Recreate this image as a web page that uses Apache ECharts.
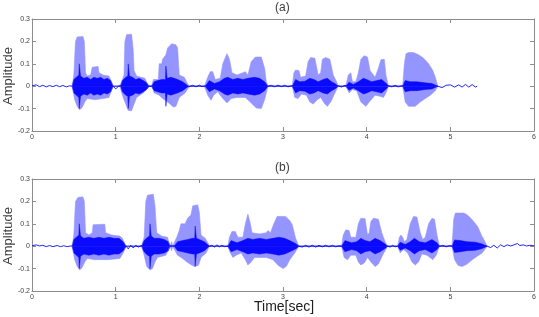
<!DOCTYPE html>
<html><head><meta charset="utf-8">
<script src="https://cdn.jsdelivr.net/npm/echarts@6/dist/echarts.min.js"></script>
<style>html,body{margin:0;padding:0;background:#fff}#c{width:539px;height:317px}</style>
</head><body><div id="c"></div>
<script>
// ---- Axis ticks ----
const xTicks = [0, 1, 2, 3, 4, 5, 6];
const yTicks = [-0.2, -0.1, 0, 0.1, 0.2, 0.3];
const panelTitles = ['(a)', '(b)'];

// ---- Panel (a): envelope keypoints [time(sec), amplitude] ----
const upperA = [[0.48,0],[0.50,0.05],[0.52,0.20],[0.54,0.22],[0.61,0.222],[0.625,0.2],[0.64,0.06],[0.66,0.045],[0.70,0.05],[0.72,0.085],[0.79,0.088],[0.80,0.06],[0.85,0.05],[0.92,0.045],[0.95,0.02],[0.97,0],
 [1.05,0],[1.07,0.02],[1.10,0.05],[1.11,0.2],[1.13,0.23],[1.19,0.232],[1.21,0.16],[1.22,0.07],[1.25,0.045],[1.35,0.035],[1.38,0.01],[1.40,0],
 [1.43,0],[1.45,0.03],[1.51,0.03],[1.52,0.1],[1.55,0.1],[1.56,0.12],[1.60,0.14],[1.62,0.17],[1.67,0.19],[1.72,0.185],[1.74,0.17],[1.76,0.05],[1.82,0.04],[1.86,0.01],[1.88,0],
 [2.06,0],[2.10,0.04],[2.13,0.065],[2.16,0.065],[2.19,0.03],[2.25,0.035],[2.28,0.1],[2.33,0.145],[2.36,0.12],[2.39,0.06],[2.45,0.05],[2.52,0.06],[2.55,0.065],[2.58,0.05],[2.62,0.11],[2.67,0.13],[2.74,0.13],[2.78,0.08],[2.80,0.02],[2.82,0],
 [3.11,0],[3.13,0.06],[3.15,0.072],[3.19,0.07],[3.21,0.04],[3.27,0.045],[3.30,0.11],[3.33,0.128],[3.38,0.125],[3.42,0.05],[3.45,0.06],[3.47,0.12],[3.51,0.128],[3.56,0.12],[3.60,0.05],[3.64,0.02],[3.66,0],
 [3.75,0],[3.78,0.05],[3.81,0.06],[3.83,0.02],[3.87,0.02],[3.90,0.06],[3.93,0.12],[3.97,0.136],[4.01,0.13],[4.04,0.07],[4.10,0.04],[4.14,0.08],[4.17,0.118],[4.21,0.12],[4.23,0.05],[4.26,0],
 [4.43,0],[4.45,0.1],[4.47,0.145],[4.50,0.15],[4.56,0.15],[4.62,0.14],[4.68,0.125],[4.74,0.1],[4.79,0.07],[4.82,0.04],[4.85,0]];
const lowerA = [[0.48,0],[0.51,-0.06],[0.54,-0.09],[0.57,-0.105],[0.60,-0.095],[0.63,-0.07],[0.66,-0.055],[0.75,-0.06],[0.85,-0.055],[0.92,-0.05],[0.95,-0.02],[0.97,0],
 [1.05,0],[1.08,-0.04],[1.11,-0.07],[1.15,-0.108],[1.19,-0.11],[1.22,-0.08],[1.25,-0.05],[1.33,-0.03],[1.38,-0.01],[1.40,0],
 [1.43,0],[1.46,-0.03],[1.52,-0.04],[1.56,-0.055],[1.62,-0.07],[1.69,-0.093],[1.72,-0.09],[1.76,-0.05],[1.83,-0.03],[1.88,0],
 [2.06,0],[2.10,-0.04],[2.14,-0.063],[2.17,-0.04],[2.22,-0.025],[2.27,-0.05],[2.33,-0.075],[2.38,-0.055],[2.45,-0.05],[2.55,-0.05],[2.62,-0.075],[2.68,-0.097],[2.74,-0.1],[2.78,-0.06],[2.82,0],
 [3.11,0],[3.14,-0.05],[3.18,-0.055],[3.22,-0.035],[3.28,-0.04],[3.32,-0.07],[3.36,-0.08],[3.41,-0.06],[3.45,-0.05],[3.50,-0.08],[3.53,-0.09],[3.57,-0.07],[3.62,-0.03],[3.66,0],
 [3.75,0],[3.79,-0.03],[3.83,-0.015],[3.88,-0.02],[3.93,-0.07],[3.99,-0.09],[4.03,-0.07],[4.10,-0.04],[4.16,-0.045],[4.20,-0.05],[4.23,-0.03],[4.26,0],
 [4.43,0],[4.46,-0.07],[4.50,-0.09],[4.58,-0.09],[4.64,-0.07],[4.70,-0.055],[4.76,-0.04],[4.82,-0.02],[4.85,0]];
const coreA = [[0.48,0],[0.50,0.03],[0.53,0.04],[0.56,0.05],[0.565,0.1],[0.575,0.1],[0.58,0.045],[0.62,0.035],[0.66,0.04],[0.70,0.03],[0.74,0.04],[0.78,0.035],[0.82,0.04],[0.86,0.03],[0.90,0.035],[0.94,0.025],[0.97,0],
 [1.06,0],[1.08,0.025],[1.12,0.04],[1.145,0.045],[1.15,0.1],[1.16,0.1],[1.165,0.045],[1.20,0.04],[1.24,0.03],[1.28,0.035],[1.33,0.025],[1.37,0.015],[1.40,0],
 [1.43,0],[1.46,0.02],[1.50,0.025],[1.55,0.03],[1.595,0.03],[1.60,0.09],[1.61,0.09],[1.615,0.035],[1.66,0.04],[1.70,0.035],[1.74,0.03],[1.80,0.02],[1.87,0],
 [2.07,0],[2.12,0.025],[2.18,0.012],[2.24,0.02],[2.30,0.035],[2.34,0.04],[2.40,0.03],[2.46,0.035],[2.52,0.03],[2.58,0.035],[2.66,0.04],[2.72,0.035],[2.78,0.02],[2.82,0],
 [3.11,0],[3.15,0.03],[3.20,0.02],[3.26,0.022],[3.32,0.035],[3.37,0.03],[3.42,0.02],[3.48,0.03],[3.53,0.035],[3.58,0.02],[3.62,0.012],[3.66,0],
 [3.75,0],[3.79,0.018],[3.84,0.008],[3.90,0.02],[3.96,0.035],[4.00,0.03],[4.06,0.02],[4.12,0.025],[4.18,0.03],[4.24,0.01],[4.26,0],
 [4.43,0],[4.46,0.025],[4.52,0.02],[4.60,0.02],[4.70,0.015],[4.78,0.012],[4.85,0]];
const quietA = [[0,0.002],[0.05,0.006],[0.09,-0.002],[0.13,0.004],[0.17,-0.003],[0.21,0.003],[0.25,-0.002],[0.29,0.004],[0.33,-0.002],[0.37,0.003],[0.41,-0.003],[0.45,0.002],[0.48,0],
 [0.97,0],[1.0,-0.012],[1.02,-0.006],[1.04,0.002],[1.05,0],[1.40,0],[1.42,-0.004],[1.43,0],
 [1.88,-0.002],[1.92,0.004],[1.96,-0.003],[2.0,0.005],[2.03,-0.002],[2.06,0],
 [2.82,0],[2.86,0.004],[2.90,-0.003],[2.94,0.005],[2.98,-0.002],[3.02,0.004],[3.06,-0.003],[3.10,0.002],[3.11,0],
 [3.66,0.002],[3.70,-0.004],[3.73,0.003],[3.75,0],
 [4.26,0.003],[4.30,-0.003],[4.34,0.004],[4.38,-0.003],[4.42,0.002],[4.43,0],
 [4.85,0],[4.9,-0.006],[4.95,0.004],[5.0,0.006],[5.05,-0.004],[5.1,0.006],[5.14,-0.004],[5.18,0.008],[5.22,-0.004],[5.26,0.007],[5.30,-0.004],[5.32,0]];

// ---- Panel (b) ----
const upperB = [[0.48,0],[0.50,0.05],[0.52,0.2],[0.55,0.218],[0.61,0.22],[0.625,0.2],[0.64,0.06],[0.68,0.05],[0.72,0.06],[0.73,0.096],[0.87,0.098],[0.88,0.06],[0.95,0.05],[1.05,0.045],[1.08,0.035],[1.11,0.01],[1.125,0],
 [1.31,0],[1.34,0.04],[1.36,0.2],[1.38,0.228],[1.45,0.232],[1.47,0.18],[1.49,0.06],[1.55,0.045],[1.62,0.04],[1.64,0.01],[1.65,0],
 [1.66,0],[1.67,0.02],[1.68,0],
 [1.70,0],[1.73,0.04],[1.76,0.07],[1.78,0.1],[1.83,0.1],[1.86,0.125],[1.90,0.14],[1.92,0.18],[1.98,0.185],[2.0,0.15],[2.02,0.05],[2.07,0.035],[2.11,0.01],[2.12,0],
 [2.34,0],[2.36,0.04],[2.39,0.066],[2.43,0.066],[2.46,0.04],[2.52,0.04],[2.55,0.1],[2.58,0.143],[2.61,0.1],[2.63,0.06],[2.72,0.055],[2.80,0.06],[2.82,0.07],[2.85,0.06],[2.89,0.1],[2.93,0.133],[3.03,0.133],[3.08,0.115],[3.11,0.096],[3.15,0.036],[3.19,0],
 [3.70,0],[3.72,0.05],[3.75,0.073],[3.79,0.07],[3.81,0.04],[3.87,0.04],[3.90,0.1],[3.93,0.125],[3.98,0.123],[4.01,0.05],[4.03,0.06],[4.05,0.11],[4.08,0.125],[4.14,0.12],[4.18,0.06],[4.22,0.02],[4.25,0],
 [4.37,0],[4.39,0.04],[4.41,0.05],[4.43,0.04],[4.45,0.02],[4.48,0.03],[4.52,0.1],[4.56,0.133],[4.60,0.13],[4.64,0.06],[4.67,0.03],[4.70,0.04],[4.74,0.1],[4.78,0.125],[4.81,0.12],[4.84,0.05],[4.87,0],
 [5.02,0],[5.04,0.12],[5.06,0.148],[5.16,0.148],[5.20,0.14],[5.25,0.123],[5.30,0.1],[5.33,0.085],[5.37,0.05],[5.40,0.03],[5.44,0]];
const lowerB = [[0.48,0],[0.51,-0.06],[0.54,-0.09],[0.57,-0.106],[0.60,-0.095],[0.63,-0.07],[0.66,-0.055],[0.75,-0.06],[0.90,-0.06],[1.05,-0.055],[1.09,-0.03],[1.125,0],
 [1.31,0],[1.34,-0.04],[1.37,-0.09],[1.41,-0.106],[1.44,-0.1],[1.47,-0.07],[1.50,-0.05],[1.60,-0.04],[1.65,0],
 [1.66,0],[1.67,-0.02],[1.68,0],
 [1.70,0],[1.74,-0.04],[1.80,-0.055],[1.85,-0.07],[1.91,-0.085],[1.95,-0.091],[1.99,-0.085],[2.02,-0.05],[2.08,-0.03],[2.12,0],
 [2.34,0],[2.37,-0.03],[2.40,-0.05],[2.44,-0.04],[2.50,-0.03],[2.55,-0.06],[2.58,-0.084],[2.62,-0.07],[2.66,-0.05],[2.80,-0.05],[2.88,-0.06],[2.94,-0.085],[3.0,-0.1],[3.04,-0.09],[3.08,-0.061],[3.14,-0.03],[3.19,0],
 [3.70,0],[3.73,-0.05],[3.77,-0.061],[3.81,-0.04],[3.87,-0.04],[3.90,-0.07],[3.93,-0.084],[3.97,-0.075],[4.01,-0.05],[4.05,-0.07],[4.10,-0.091],[4.14,-0.08],[4.19,-0.04],[4.25,0],
 [4.37,0],[4.40,-0.03],[4.44,-0.015],[4.49,-0.03],[4.54,-0.07],[4.58,-0.084],[4.62,-0.07],[4.66,-0.035],[4.72,-0.04],[4.79,-0.06],[4.83,-0.04],[4.87,0],
 [5.02,0],[5.05,-0.06],[5.09,-0.085],[5.14,-0.091],[5.20,-0.08],[5.26,-0.061],[5.32,-0.045],[5.38,-0.03],[5.44,0]];
const coreB = [[0.48,0],[0.50,0.03],[0.53,0.04],[0.56,0.05],[0.565,0.1],[0.575,0.1],[0.58,0.045],[0.62,0.035],[0.68,0.04],[0.74,0.035],[0.80,0.04],[0.86,0.035],[0.92,0.04],[0.98,0.035],[1.04,0.035],[1.09,0.02],[1.125,0],
 [1.31,0],[1.34,0.025],[1.38,0.04],[1.405,0.045],[1.41,0.1],[1.42,0.1],[1.425,0.045],[1.46,0.035],[1.52,0.035],[1.58,0.03],[1.63,0.02],[1.65,0],
 [1.70,0],[1.74,0.02],[1.80,0.025],[1.86,0.03],[1.92,0.035],[1.945,0.035],[1.95,0.09],[1.96,0.09],[1.965,0.035],[2.0,0.03],[2.06,0.02],[2.12,0],
 [2.34,0],[2.38,0.025],[2.45,0.015],[2.52,0.025],[2.58,0.035],[2.64,0.03],[2.72,0.035],[2.80,0.03],[2.88,0.035],[2.95,0.04],[3.02,0.035],[3.08,0.025],[3.15,0.012],[3.19,0],
 [3.70,0],[3.74,0.025],[3.82,0.015],[3.88,0.02],[3.93,0.035],[3.98,0.025],[4.04,0.02],[4.10,0.035],[4.16,0.025],[4.22,0.01],[4.25,0],
 [4.37,0],[4.40,0.018],[4.46,0.008],[4.52,0.02],[4.57,0.035],[4.63,0.02],[4.70,0.015],[4.78,0.03],[4.84,0.015],[4.87,0],
 [5.02,0],[5.05,0.028],[5.12,0.025],[5.20,0.02],[5.30,0.018],[5.38,0.01],[5.44,0]];
const quietB = [[0,0.002],[0.05,0.006],[0.09,0.001],[0.13,0.004],[0.17,-0.002],[0.21,0.003],[0.25,-0.002],[0.30,0.003],[0.34,-0.002],[0.38,0.002],[0.42,-0.002],[0.46,0.001],[0.48,0],
 [1.125,0],[1.15,-0.012],[1.18,0.004],[1.21,-0.008],[1.24,0.004],[1.27,-0.004],[1.30,0.002],[1.31,0],
 [2.12,0],[2.15,0.004],[2.18,-0.004],[2.21,0.006],[2.24,-0.003],[2.27,0.004],[2.30,-0.002],[2.34,0],
 [3.19,0],[3.23,-0.004],[3.27,0.004],[3.31,-0.004],[3.35,0.004],[3.39,-0.004],[3.43,0.004],[3.47,-0.003],[3.51,0.004],[3.55,-0.003],[3.59,0.004],[3.63,-0.003],[3.67,0.002],[3.70,0],
 [4.25,0],[4.28,-0.004],[4.31,0.004],[4.34,-0.003],[4.37,0],
 [4.87,0],[4.91,0.004],[4.95,-0.003],[4.99,0.003],[5.02,0],
 [5.44,0],[5.48,-0.006],[5.52,0.004],[5.56,-0.008],[5.60,0.006],[5.64,-0.002],[5.68,0.006],[5.72,0.001],[5.76,0.006],[5.80,0.012],[5.83,0.003],[5.87,0.006],[5.91,0.001],[5.95,0.004],[6.0,0.002]];

const panels = [
  {upper: upperA, lower: lowerA, core: coreA, quiet: quietA},
  {upper: upperB, lower: lowerB, core: coreB, quiet: quietB}
];

const LIGHT = '#9595ff', DARK = '#0a0aff';
const gridTops = [19, 179];
const chart = echarts.init(document.getElementById('c'), null, {renderer: 'canvas'});

const grids = [], xAxes = [], yAxes = [], series = [], graphics = [];
const axisColor = '#8c8c8c';
const lbl = {fontSize: 7, color: '#404040', fontFamily: 'Liberation Sans, Arial, sans-serif'};

gridTops.forEach((top, i) => {
  grids.push({left: 32, top: top, width: 503, height: 112, show: false});
  const xBase = {gridIndex: i, type: 'value', min: xTicks[0], max: xTicks[xTicks.length-1], interval: 1,
    splitLine: {show: false}, axisLine: {show: true, onZero: false, lineStyle: {color: axisColor, width: 1}},
    axisTick: {show: true, inside: true, length: 4, lineStyle: {color: axisColor}}};
  xAxes.push(Object.assign({}, xBase, {position: 'bottom', axisLabel: Object.assign({margin: 3, showMinLabel: true, showMaxLabel: true}, lbl)}));
  xAxes.push(Object.assign({}, xBase, {position: 'top', axisLabel: {show: false}}));
  const yBase = {gridIndex: i, type: 'value', min: yTicks[0], max: yTicks[yTicks.length-1], interval: 0.1,
    splitLine: {show: false}, axisLine: {show: true, onZero: false, lineStyle: {color: axisColor, width: 1}},
    axisTick: {show: true, inside: true, length: 4, lineStyle: {color: axisColor}}};
  yAxes.push(Object.assign({}, yBase, {position: 'left', axisLabel: Object.assign({margin: 2, showMinLabel: true, showMaxLabel: true,
     formatter: v => { const r = Math.round(v*10)/10; return r === 0 ? '0' : String(r); }}, lbl)}));
  yAxes.push(Object.assign({}, yBase, {position: 'right', axisLabel: {show: false}}));

  const p = panels[i];
  const xi = i*2, yi = i*2;
  const area = (data, color, fill, w) => ({type: 'line', xAxisIndex: xi, yAxisIndex: yi, data: data, symbol: 'none',
     silent: true, animation: false, lineStyle: {color: color, width: w}, areaStyle: {color: fill, opacity: 1, origin: 0}});
  series.push(area(p.upper, LIGHT, LIGHT, 0.6));
  series.push(area(p.lower, LIGHT, LIGHT, 0.6));
  series.push(area(p.core, DARK, DARK, 0.5));
  series.push(area(p.core.map(d => [d[0], -d[1]]), DARK, DARK, 0.5));
  series.push({type: 'line', xAxisIndex: xi, yAxisIndex: yi, data: p.quiet, symbol: 'none', silent: true, animation: false,
     lineStyle: {color: DARK, width: 0.9}});

  graphics.push({type: 'text', left: 275, top: top - 17, style: {text: panelTitles[i], fontSize: 12, fill: '#404040', fontFamily: 'Liberation Sans, Arial, sans-serif'}});
  graphics.push({type: 'text', x: 8, y: top + 57, rotation: Math.PI/2, style: {text: 'Amplitude', fontSize: 13, fill: '#404040',
     fontFamily: 'Liberation Sans, Arial, sans-serif', align: 'center', verticalAlign: 'middle'}, originX: 0, originY: 0});
});
graphics.push({type: 'text', left: 254, top: 300, style: {text: 'Time[sec]', fontSize: 14, fill: '#202020', fontFamily: 'Liberation Sans, Arial, sans-serif'}});

chart.setOption({
  animation: false,
  grid: grids, xAxis: xAxes, yAxis: yAxes, series: series, graphic: graphics
});
</script></body></html>
